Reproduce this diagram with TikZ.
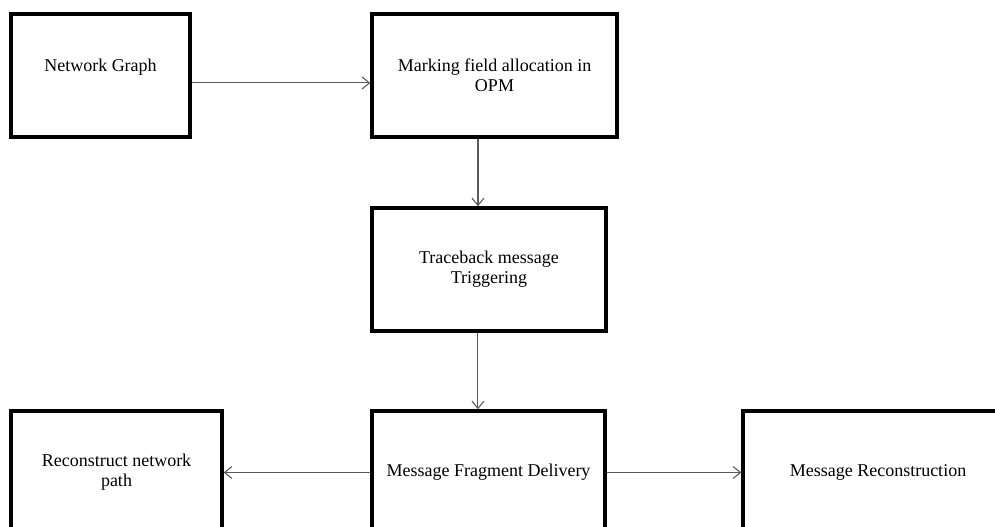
\documentclass[tikz,border=0pt]{standalone}
\usepackage{fontspec}
\setmainfont{Liberation Serif}
\usetikzlibrary{arrows.meta}

\begin{document}
\begin{tikzpicture}[x=0.75pt,y=-0.75pt,
    every node/.append style={font=\fontsize{13.5}{15}\selectfont},
    box/.style={rectangle, draw=black, line width=2.6pt, fill=white, align=center, inner sep=0pt, minimum height=92.25pt},
    link/.style={draw=black!65, line width=0.8pt, -{Straight Barb[length=5.5pt,width=9pt]}}]

    \useasboundingbox (0,0) rectangle (995,527);
    \clip (0,0) rectangle (995,527);

    \node(net-graph)[box, minimum width=134.25pt] at (100.5,75.5) {Network Graph\\ \mbox{}};
    \node(mark-opm)[box, minimum width=183.75pt] at (494.5,75.5) {Marking field allocation in\\OPM};
    \node(trace-trig)[box, minimum width=175.5pt] at (489,269.5) {Traceback message\\Triggering};
    \node(frag-deliv)[box, minimum width=174.75pt] at (488.5,472.5) {Message Fragment Delivery};
    \node(path-rec)[box, minimum width=158.25pt] at (116.5,472.5) {Reconstruct network\\path};
    \node(msg-rec)[box, minimum width=202.5pt] at (878,472.5) {Message Reconstruction};

    \draw[link] ([yshift=-5.6pt]net-graph.east) -- ([yshift=-5.6pt]mark-opm.west);
    \draw[link] ([xshift=-12.4pt]mark-opm.south) -- ([xshift=-12.4pt]mark-opm.south |- trace-trig.north);
    \draw[link] ([xshift=-8.3pt]trace-trig.south) -- ([xshift=-8.3pt]trace-trig.south |- frag-deliv.north);
    \draw[link] (frag-deliv) -- (path-rec);
    \draw[link] (frag-deliv) -- (msg-rec);
  \end{tikzpicture}
\end{document}
